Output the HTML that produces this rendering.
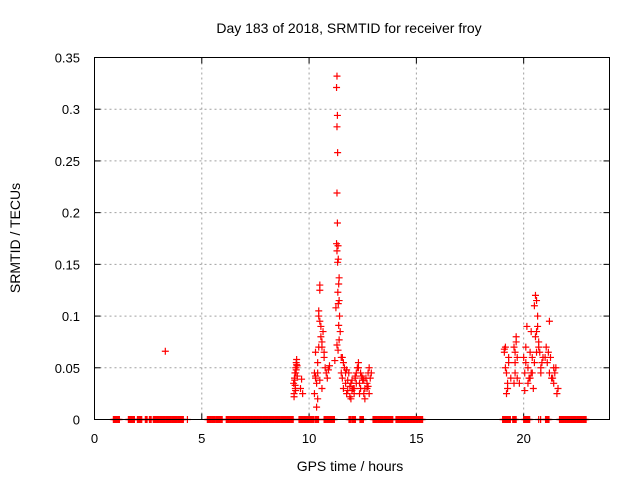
<!DOCTYPE html>
<html><head><meta charset="utf-8"><style>
body{margin:0;background:#fff}
svg{display:block;font-family:"Liberation Sans",sans-serif}
</style></head><body>
<svg id="chart" width="640" height="480" viewBox="0 0 640 480">
<rect width="640" height="480" fill="#fff"/>
<text x="349" y="33" font-size="14" text-anchor="middle" fill="#000">Day 183 of 2018, SRMTID for receiver froy</text>
<g id="grid"></g>
<g id="axes"></g>
<g id="marks"></g>
<rect x="94.5" y="57.5" width="515" height="362" fill="none" stroke="#000" stroke-width="1"/>
<text x="350" y="471" font-size="14" text-anchor="middle">GPS time / hours</text>
<text transform="translate(20,238) rotate(-90)" font-size="14" text-anchor="middle">SRMTID / TECUs</text>
</svg>
<script>
const xTicks=[0,5,10,15,20];
const yTicks=[0,0.05,0.1,0.15,0.2,0.25,0.3,0.35];
const yTickLabels=["0","0.05","0.1","0.15","0.2","0.25","0.3","0.35"];
const zeroRanges=[[0.88,1.16],[1.58,1.86],[2.0,2.23],[2.37,2.47],[2.56,2.65],[2.74,4.14],[4.33,4.33],[5.26,5.63],[5.67,5.95],[6.14,9.26],[9.53,10.23],[10.28,10.47],[10.7,11.2],[11.86,11.95],[12.0,12.19],[12.37,12.56],[12.98,13.9],[14.05,15.3],[19.02,19.4],[19.49,19.67],[20.0,20.28],[20.7,20.7],[20.79,20.79],[21.02,21.2],[21.67,22.93]];
const hours=[3.3,
9.28,9.3,9.32,9.34,9.36,9.38,9.4,9.42,9.44,9.3,9.35,9.4,9.45,9.33,9.37,9.6,9.65,9.7,9.42,9.38,
10.25,10.3,10.3,10.35,10.4,10.4,10.45,10.45,10.5,10.5,10.5,10.55,10.55,10.6,10.6,10.65,10.7,10.7,10.75,10.8,10.85,10.4,10.35,10.3,10.6,10.5,10.45,10.9,10.95,10.25,
11.3,11.28,11.32,11.3,11.33,11.3,11.32,11.28,11.35,11.3,11.33,11.36,11.4,11.38,11.34,11.4,11.36,11.25,11.42,11.38,11.45,11.4,11.3,11.35,11.2,11.5,
11.5,11.55,11.6,11.65,11.7,11.75,11.8,11.85,11.9,11.95,12.0,12.05,12.1,12.15,12.2,12.25,12.3,12.35,12.4,12.45,12.5,12.55,12.6,12.65,12.7,12.75,12.8,12.85,12.9,11.6,11.7,11.8,11.9,12.0,12.1,12.2,12.3,12.4,12.5,12.6,12.7,12.8,11.55,11.75,11.95,12.15,12.35,12.55,12.75,
19.1,19.15,19.2,19.25,19.3,19.2,19.15,19.25,19.1,19.3,19.55,19.6,19.65,19.7,19.6,19.55,19.7,19.65,19.6,20.0,20.05,20.1,20.15,20.2,20.25,20.3,20.35,20.4,20.45,20.5,20.55,20.6,20.65,20.7,20.75,20.8,20.85,20.9,20.2,20.3,20.4,20.5,20.6,20.7,20.8,20.55,20.6,20.65,21.0,21.1,21.2,21.3,21.4,21.5,21.6,21.05,21.15,21.25,21.35,21.45,21.55,21.2,21.4,19.4,19.8,20.05,20.35,20.1];
const values=[0.066,
.035,.025,.04,.045,.03,.05,.055,.058,.052,.022,.033,.048,.042,.038,.028,.03,.039,.025,.053,.045,
.045,.065,.04,.012,.02,.045,.1,.105,.13,.125,.095,.09,.08,.075,.07,.085,.065,.06,.05,.045,.04,.055,.035,.042,.03,.038,.07,.048,.052,.025,
.332,.321,.294,.283,.258,.219,.19,.17,.168,.163,.152,.155,.137,.131,.123,.115,.112,.108,.1,.091,.085,.077,.072,.067,.057,.06,
.045,.04,.03,.05,.035,.025,.028,.045,.032,.02,.038,.03,.025,.04,.045,.05,.055,.035,.03,.042,.038,.025,.03,.04,.035,.045,.05,.04,.045,.055,.045,.038,.022,.028,.03,.035,.05,.045,.04,.02,.03,.025,.06,.048,.035,.042,.025,.038,.032,
.065,.07,.045,.035,.06,.025,.05,.03,.068,.055,.07,.065,.075,.06,.045,.035,.04,.08,.055,.06,.045,.07,.09,.05,.04,.065,.085,.06,.03,.11,.12,.115,.1,.075,.065,.05,.055,.06,.035,.04,.045,.055,.065,.07,.045,.08,.085,.09,.06,.055,.045,.04,.035,.05,.03,.07,.065,.06,.04,.045,.025,.095,.05,.04,.035,.028,.045,.055];

const NS="http://www.w3.org/2000/svg";
const X0=94.5,X1=609.5,Y0=419.5,Y1=57.5;
const xs=h=>X0+(h/24)*(X1-X0);
const ys=v=>Y0-(v/0.35)*(Y0-Y1);
function mk(tag,parent,attrs){const e=document.createElementNS(NS,tag);for(const k in attrs)e.setAttribute(k,attrs[k]);parent.appendChild(e);return e;}
const grid=document.getElementById('grid'),axes=document.getElementById('axes'),marks=document.getElementById('marks');
xTicks.forEach(t=>{
  const x=xs(t);
  if(t>0){const g=mk('line',grid,{x1:x,x2:x,y1:Y1,y2:Y0,stroke:'#a0a0a0','stroke-dasharray':'2,3'});
  
  }
  mk('line',axes,{x1:x,x2:x,y1:Y0,y2:Y0-6,stroke:'#000'});
  mk('line',axes,{x1:x,x2:x,y1:Y1,y2:Y1+6,stroke:'#000'});
  const tx=mk('text',axes,{x:x,y:443,'font-size':13,'text-anchor':'middle'});
  
  
  tx.textContent=String(t);
});
yTicks.forEach((t,i)=>{
  const y=ys(t);
  if(t>0&&t<0.35){const g=mk('line',grid,{x1:X0,x2:X1,y1:y,y2:y,stroke:'#a0a0a0','stroke-dasharray':'2,3'});
  
  }
  mk('line',axes,{x1:X0,x2:X0+6,y1:y,y2:y,stroke:'#000'});
  mk('line',axes,{x1:X1,x2:X1-6,y1:y,y2:y,stroke:'#000'});
  const tx=mk('text',axes,{x:80,y:y+5,'font-size':13,'text-anchor':'end'});
  
  
  tx.textContent=yTickLabels[i];
});
function plus(h,v){
  const x=xs(h),y=ys(v);
  const p=mk('path',marks,{d:`M${x-3.5},${y}H${x+3.5}M${x},${y-3.5}V${y+3.5}`,stroke:'#f00','stroke-width':1.2,fill:'none'});
  
  
}
zeroRanges.forEach(r=>{for(let h=r[0];h<=r[1]+1e-9;h+=0.04)plus(h,0);});
hours.forEach((h,i)=>plus(h,values[i]));
</script>
</body></html>
